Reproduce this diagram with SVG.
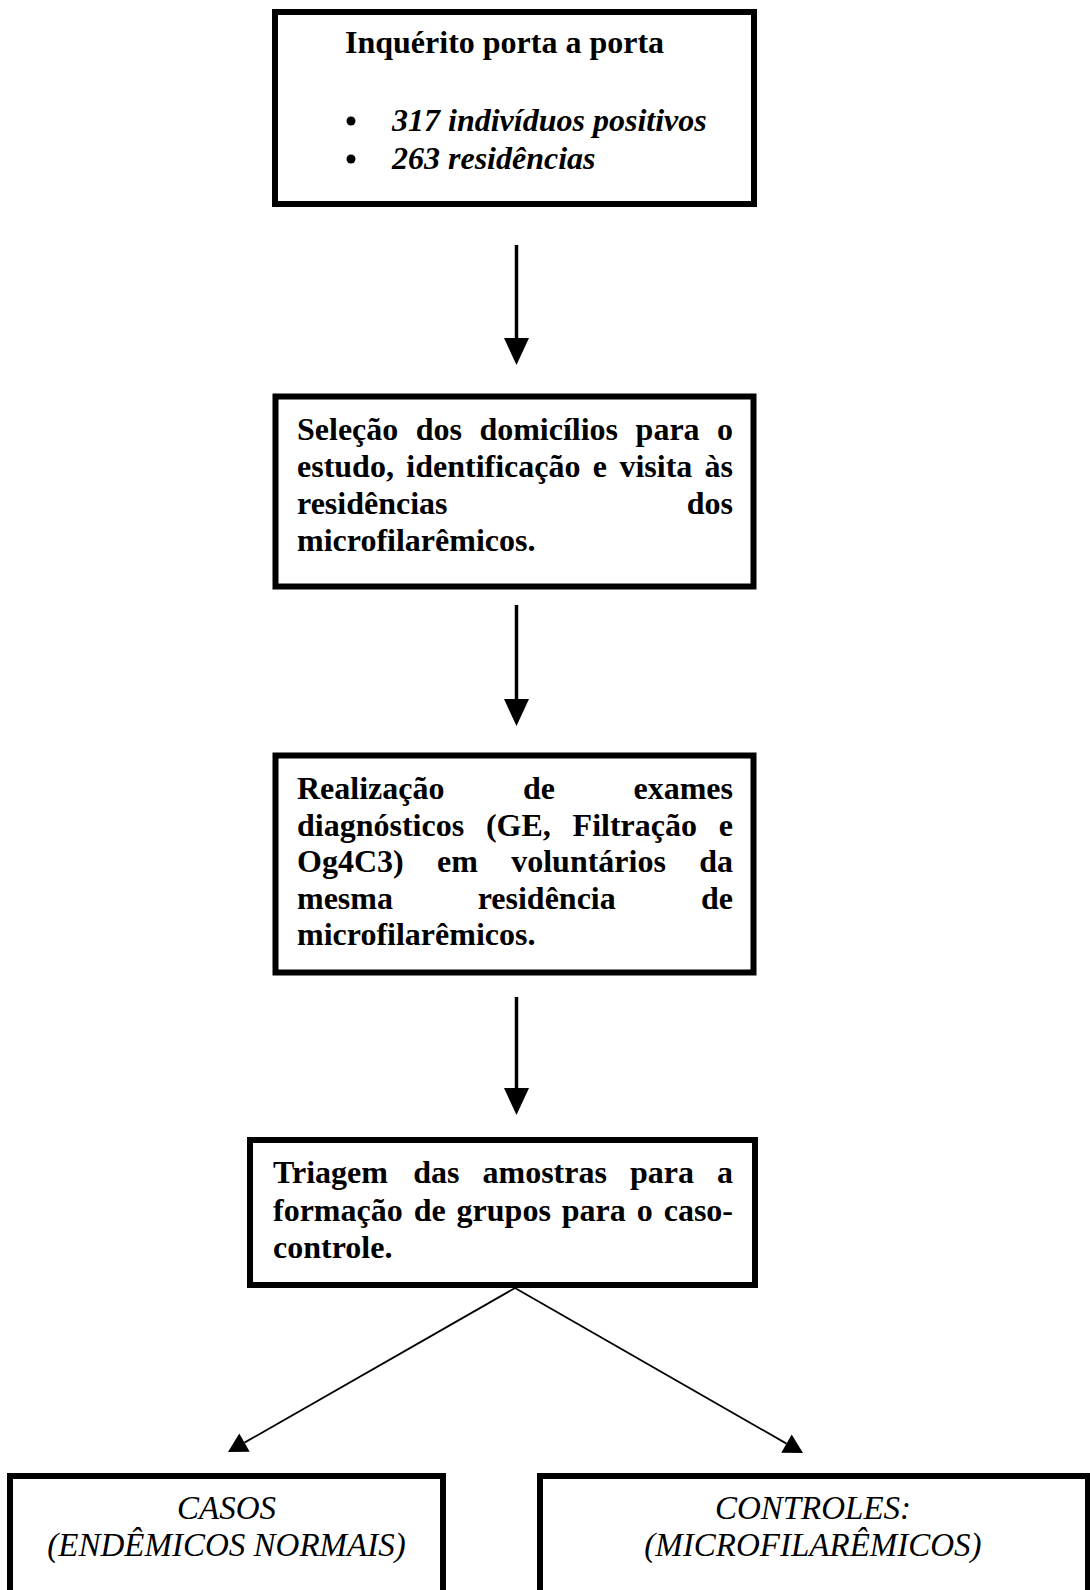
<svg xmlns="http://www.w3.org/2000/svg" width="1090" height="1590" viewBox="0 0 1090 1590">
<style>
.box{fill:#fff;stroke:#000;stroke-width:6;}
.t{font-family:"Liberation Serif","Times New Roman",serif;font-size:32px;font-weight:bold;fill:#000;}
.bi{font-family:"Liberation Serif","Times New Roman",serif;font-size:32px;font-weight:bold;font-style:italic;fill:#000;}
.it{font-family:"Liberation Serif","Times New Roman",serif;font-size:33px;font-style:italic;fill:#000;text-anchor:middle;}
.e{text-anchor:end;}
.v{stroke:#000;stroke-width:3.5;fill:none;marker-end:url(#headV);}
.d{stroke:#000;stroke-width:1.8;fill:none;marker-end:url(#headD);}
</style>
<defs>
<marker id="headV" markerUnits="userSpaceOnUse" markerWidth="27" markerHeight="25" refX="0" refY="12.5" orient="auto" overflow="visible">
<path d="M0,0 L27,12.5 L0,25 z" fill="#000"/>
</marker>
<marker id="headD" markerUnits="userSpaceOnUse" markerWidth="19" markerHeight="21" refX="0" refY="10.5" orient="auto" overflow="visible">
<path d="M0,0 L19,10.5 L0,21 z" fill="#000"/>
</marker>
</defs>
<rect width="1090" height="1590" fill="#fff"/>

<g id="connectors">
<line class="v" x1="516.5" y1="245" x2="516.5" y2="338"/>
<line class="v" x1="516.5" y1="605" x2="516.5" y2="699"/>
<line class="v" x1="516.5" y1="997" x2="516.5" y2="1088"/>
<line class="d" x1="515" y1="1288" x2="244.5" y2="1442.6"/>
<line class="d" x1="515" y1="1288" x2="786.5" y2="1443.6"/>
</g>

<g id="node1">
<rect class="box" x="275" y="12" width="479" height="192"/>
<text class="t" x="345" y="53">Inquérito porta a porta</text>
<circle cx="351" cy="121" r="4.5" fill="#000"/>
<circle cx="351" cy="159" r="4.5" fill="#000"/>
<text class="bi" x="392" y="131">317 indivíduos positivos</text>
<text class="bi" x="392" y="169">263 residências</text>
</g>

<g id="node2">
<rect class="box" x="275.5" y="396.5" width="478" height="190"/>
<text class="t" y="440"><tspan x="297">Seleção</tspan><tspan x="415.8">dos</tspan><tspan x="479.4">domicílios</tspan><tspan x="635.6">para</tspan><tspan x="717">o</tspan></text>
<text class="t" y="477"><tspan x="297">estudo,</tspan><tspan x="406.3">identificação</tspan><tspan x="592.8">e</tspan><tspan x="619.4">visita</tspan><tspan x="704.6">às</tspan></text>
<text class="t" x="297" y="514">residências</text>
<text class="t e" x="733" y="514">dos</text>
<text class="t" x="297" y="551">microfilarêmicos.</text>
</g>

<g id="node3">
<rect class="box" x="275.5" y="755.5" width="478" height="217"/>
<text class="t" y="799"><tspan x="297">Realização</tspan><tspan x="523">de</tspan></text>
<text class="t e" x="733" y="799">exames</text>
<text class="t" y="835.6"><tspan x="297">diagnósticos</tspan><tspan x="485.9">(GE,</tspan><tspan x="572.6">Filtração</tspan><tspan x="718.8">e</tspan></text>
<text class="t" y="872.2"><tspan x="297">Og4C3)</tspan><tspan x="437">em</tspan><tspan x="511.2">voluntários</tspan><tspan x="699.2">da</tspan></text>
<text class="t" y="908.8"><tspan x="297">mesma</tspan><tspan x="477.7">residência</tspan></text>
<text class="t e" x="733" y="908.8">de</text>
<text class="t" x="297" y="945.4">microfilarêmicos.</text>
</g>

<g id="node4">
<rect class="box" x="250" y="1140" width="505" height="145"/>
<text class="t" y="1183"><tspan x="273">Triagem</tspan><tspan x="413.3">das</tspan><tspan x="482.5">amostras</tspan><tspan x="629.9">para</tspan><tspan x="716.9">a</tspan></text>
<text class="t" y="1221"><tspan x="273">formação</tspan><tspan x="413.7">de</tspan><tspan x="456.6">grupos</tspan><tspan x="561.8">para</tspan><tspan x="636.7">o</tspan><tspan x="663.7">caso-</tspan></text>
<text class="t" x="273" y="1258">controle.</text>
</g>

<g id="node5">
<rect class="box" x="10" y="1476" width="433" height="200" stroke-width="6.5"/>
<text class="it" x="226.5" y="1519">CASOS</text>
<text class="it" x="226.5" y="1556">(ENDÊMICOS NORMAIS)</text>
</g>

<g id="node6">
<rect class="box" x="540" y="1476" width="548" height="200" stroke-width="6.5"/>
<text class="it" x="813" y="1519">CONTROLES:</text>
<text class="it" x="813" y="1556">(MICROFILARÊMICOS)</text>
</g>
</svg>
